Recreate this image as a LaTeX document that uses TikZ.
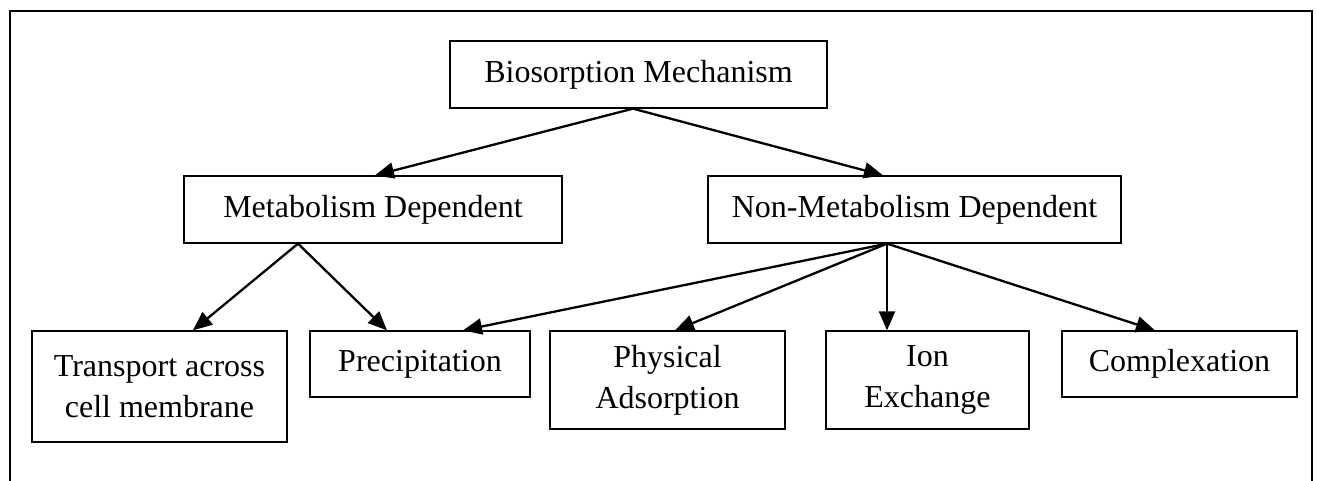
\documentclass[tikz,border=0pt]{standalone}
\usepackage{fontspec}
\setmainfont{Liberation Serif}
\usetikzlibrary{arrows.meta}
\begin{document}
\begin{tikzpicture}[x=1pt,y=-1pt,
  box/.style={draw,line width=1.3pt,rectangle,inner sep=0pt,align=center,
    font=\fontsize{32}{41}\selectfont},
  arr/.style={line width=2.3pt,-{Triangle[length=19pt,width=16pt]}},
  frame/.style={line width=2pt}]
\useasboundingbox (0,0) rectangle (1317,481);
\draw[frame] (10,481) -- (10,11) -- (1312,11) -- (1312,481);
\node[box,minimum width=377pt,minimum height=67pt] (bio) at (638.5,74.5) {Biosorption Mechanism};
\node[box,minimum width=378pt,minimum height=67pt] (met) at (373,209.5) {Metabolism Dependent};
\node[box,minimum width=413pt,minimum height=67pt] (non) at (914.5,209.5) {Non-Metabolism Dependent};
\node[box,minimum width=255pt,minimum height=111pt] (trans) at (159.5,386.5) {Transport across\\cell membrane};
\node[box,minimum width=220pt,minimum height=66pt] (prec) at (420,364) {Precipitation};
\node[box,minimum width=235pt,minimum height=98pt] (phys) at (667.5,380) {Physical\\Adsorption};
\node[box,minimum width=203pt,minimum height=98pt] (ion) at (927.5,380) {Ion\\Exchange};
\node[box,minimum width=235pt,minimum height=66pt] (comp) at (1179.5,364) {Complexation};
\draw[arr] ([xshift=-5.5pt]bio.south) -- ([xshift=2pt]met.north);
\draw[arr] ([xshift=-5.5pt]bio.south) -- ([xshift=-31.5pt]non.north);
\draw[arr] ([xshift=-75pt]met.south) -- ([xshift=33.5pt]trans.north);
\draw[arr] ([xshift=-75pt]met.south) -- ([xshift=-33pt]prec.north);
\draw[arr] ([xshift=-27.5pt]non.south) -- ([xshift=43pt]prec.north);
\draw[arr] ([xshift=-27.5pt]non.south) -- ([xshift=7.5pt]phys.north);
\draw[arr] ([xshift=-27.5pt]non.south) -- ([xshift=-40.5pt]ion.north);
\draw[arr] ([xshift=-27.5pt]non.south) -- ([xshift=-24.5pt]comp.north);
\end{tikzpicture}
\end{document}
